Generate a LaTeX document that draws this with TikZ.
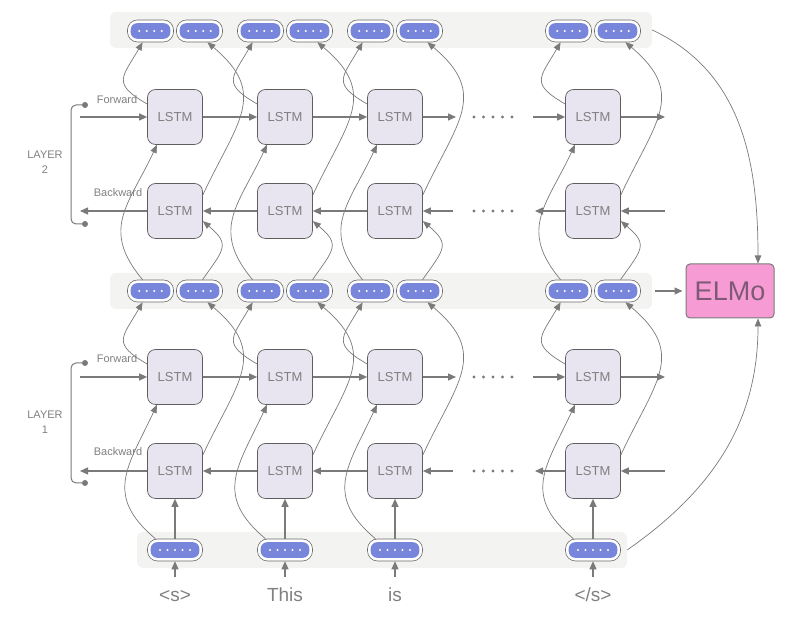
\documentclass[tikz,border=0pt]{standalone}
\usepackage{fontspec}
\setmainfont{Liberation Sans}
\usetikzlibrary{arrows.meta,calc}
\definecolor{linec}{HTML}{7A7A7A}
\definecolor{bandc}{HTML}{F3F4F2}
\definecolor{lstmfill}{HTML}{E8E4F0}
\definecolor{lstmdraw}{HTML}{5E5E5E}
\definecolor{pillblue}{HTML}{7785DB}
\definecolor{pilldraw}{HTML}{6A6A6A}
\definecolor{elmofill}{HTML}{F79BD5}
\definecolor{elmotext}{HTML}{7E5A76}
\definecolor{textc}{HTML}{808080}
\tikzset{
 band/.style={fill=bandc, rounded corners=6pt, inner sep=0pt},
 lstm/.style={draw=lstmdraw, fill=lstmfill, rounded corners=8pt, minimum width=55pt, minimum height=55pt, inner sep=0pt, line width=0.7pt, text=textc, font=\fontsize{13}{13}\selectfont},
 pill/.style={draw=pilldraw, fill=white, rounded corners=10pt, minimum width=46pt, minimum height=22pt, inner sep=0pt, line width=0.6pt,
   path picture={
     \fill[pillblue, rounded corners=6.5pt] ($(path picture bounding box.south west)+(3.2pt,3.2pt)$) rectangle ($(path picture bounding box.north east)+(-3.2pt,-3.2pt)$);
     \foreach \d in {-1.5,-0.5,0.5,1.5} \fill[white] ($(path picture bounding box.center)+(\d*7.5pt,0pt)$) circle (1.2pt);
   }},
 bigpill/.style={draw=pilldraw, fill=white, rounded corners=10pt, minimum width=55pt, minimum height=22pt, inner sep=0pt, line width=0.6pt,
   path picture={
     \fill[pillblue, rounded corners=6.5pt] ($(path picture bounding box.south west)+(3.2pt,3.2pt)$) rectangle ($(path picture bounding box.north east)+(-3.2pt,-3.2pt)$);
     \foreach \d in {-2,-1,0,1,2} \fill[white] ($(path picture bounding box.center)+(\d*7.5pt,0pt)$) circle (1.2pt);
   }},
 arr/.style={-{Triangle[length=8pt,width=7pt]}, draw=linec, line width=1.1pt},
 crv/.style={-{Triangle[length=8pt,width=6.5pt]}, draw=linec, line width=0.7pt},
 lbl/.style={text=textc, font=\fontsize{11}{15}\selectfont, inner sep=0pt},
 word/.style={text=textc, font=\fontsize{19}{19}\selectfont, inner sep=0pt, anchor=base},
 elmo/.style={draw=linec, fill=elmofill, rounded corners=4pt, minimum width=88pt, minimum height=54pt, inner sep=0pt, line width=1pt, text=elmotext, font=\fontsize{27}{27}\selectfont},
}
\begin{document}
\begin{tikzpicture}[x=1pt,y=1pt]
\useasboundingbox (0,0) rectangle (800,617);
% bands
\node[band, minimum width=542pt, minimum height=36pt] (topband) at (381,587) {};
\node[band, minimum width=542pt, minimum height=36pt] (midband) at (381,326) {};
\node[band, minimum width=490pt, minimum height=36pt] (botband) at (382,67) {};
% ELMo
\node[elmo] (elmo) at (730,326) {ELMo};
% columns
\foreach \c/\X/\w in {1/175/{<s>},2/285/This,3/395/is,4/593/{</s>}}{
  \node[pill] (TL\c) at (\X-24.5,586) {};
  \node[pill] (TR\c) at (\X+24.5,586) {};
  \node[pill] (ML\c) at (\X-24.5,326) {};
  \node[pill] (MR\c) at (\X+24.5,326) {};
  \node[bigpill] (E\c) at (\X,67) {};
  \node[lstm] (Fa\c) at (\X,500) {LSTM};
  \node[lstm] (Ba\c) at (\X,406) {LSTM};
  \node[lstm] (Fb\c) at (\X,240) {LSTM};
  \node[lstm] (Bb\c) at (\X,146) {LSTM};
  \node[word] (S\c) at (\X,15) {\w};
  \coordinate (W\c) at (\X,40);
  \draw[arr] (W\c) -- (E\c.south);
  \draw[arr] (E\c) -- (Bb\c);
  \draw[crv] (Fa\c.155) to[out=150,in=-120,looseness=1.7] (TL\c.-125);
  \draw[crv] (Ba\c.30) to[out=65,in=-40,looseness=1.35] (TR\c.-55);
  \draw[crv] (ML\c.125) to[out=130,in=-115,looseness=1.25] (Fa\c.-123);
  \draw[crv] (MR\c.75) to[out=55,in=-40,looseness=1.6] (Ba\c.-20);
  \draw[crv] (Fb\c.155) to[out=150,in=-120,looseness=1.7] (ML\c.-125);
  \draw[crv] (Bb\c.30) to[out=65,in=-40,looseness=1.35] (MR\c.-55);
  \draw[crv] (E\c.150) to[out=140,in=-115,looseness=1.3] (Fb\c.-123);
}
% horizontal connections
\foreach \L/\yf/\yb in {a/500/406,b/240/146}{
  \coordinate (in\L) at (80,\yf);
  \coordinate (out\L) at (80,\yb);
  \coordinate (fd1\L) at (456,\yf);
  \coordinate (fd2\L) at (533,\yf);
  \coordinate (fd3\L) at (665,\yf);
  \coordinate (bd1\L) at (453,\yb);
  \coordinate (bd2\L) at (535,\yb);
  \coordinate (bd3\L) at (665,\yb);
  \draw[arr] (in\L) -- (F\L1);
  \draw[arr] (F\L1) -- (F\L2);
  \draw[arr] (F\L2) -- (F\L3);
  \draw[arr] (F\L3) -- (fd1\L);
  \draw[arr] (fd2\L) -- (F\L4);
  \draw[arr] (F\L4) -- (fd3\L);
  \draw[arr] (B\L1) -- (out\L);
  \draw[arr] (B\L2) -- (B\L1);
  \draw[arr] (B\L3) -- (B\L2);
  \draw[arr] (bd1\L) -- (B\L3);
  \draw[arr] (B\L4) -- (bd2\L);
  \draw[arr] (bd3\L) -- (B\L4);
  \foreach \yy in {\yf,\yb}{
    \foreach \k in {0,...,4} \fill[linec] (474+\k*9.5,\yy) circle (1.6pt);
  }
}
% brackets and labels
\draw[linec, line width=1pt, rounded corners=5pt] (85,512) -- (71,512) -- (71,393) -- (85,393);
\fill[linec] (85,512) circle (3pt) (85,393) circle (3pt);
\draw[linec, line width=1pt, rounded corners=5pt] (85,254) -- (71,254) -- (71,134) -- (85,134);
\fill[linec] (85,254) circle (3pt) (85,134) circle (3pt);
\node[lbl] (fwa) at (117,517) {Forward};
\node[lbl] (bwa) at (118,424) {Backward};
\node[lbl] (fwb) at (117,258) {Forward};
\node[lbl] (bwb) at (118,165) {Backward};
\node[lbl, align=center] (lya) at (45,455) {LAYER\\2};
\node[lbl, align=center] (lyb) at (45,195) {LAYER\\1};
% to ELMo
\coordinate (elmoN) at ($(elmo.north)+(28,0)$);
\coordinate (elmoS) at ($(elmo.south)+(28,0)$);
\draw[crv] (topband.east) to[out=-25,in=90] (elmoN);
\draw[arr, shorten <=3pt, shorten >=3pt] (midband.east) -- (elmo.west);
\draw[crv] (botband.east) to[out=35,in=-90] (elmoS);
\end{tikzpicture}
\end{document}
